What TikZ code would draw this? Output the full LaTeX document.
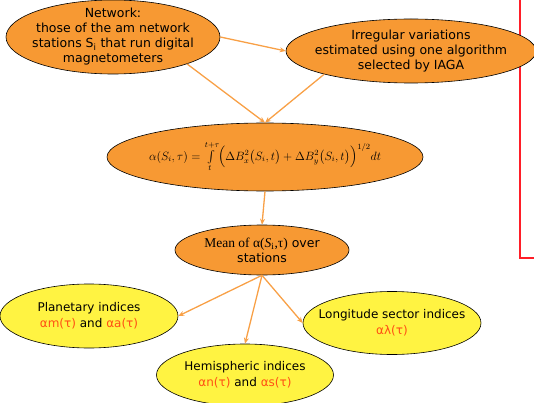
\documentclass[tikz,border=0pt]{standalone}
\usepackage{amsmath}
\usepackage{fontspec}
\setmainfont{DejaVu Sans}
\newfontfamily\seriffont{Liberation Serif}
\usetikzlibrary{shapes.geometric,arrows.meta}
\definecolor{boxorange}{RGB}{247,153,51}
\definecolor{boxyellow}{RGB}{255,243,66}
\definecolor{idxred}{RGB}{255,80,20}
\definecolor{linkorange}{RGB}{248,160,70}
\definecolor{framered}{RGB}{255,30,40}

\begin{document}
\begin{tikzpicture}[x=1pt,y=-1pt,
    blob/.style={ellipse, draw=black, line width=0.6pt, inner sep=-16pt,
      align=center, font=\fontsize{12.5}{15}\selectfont},
    index/.style={blob, fill=boxyellow, font=\fontsize{12}{16}\selectfont},
    link/.style={draw=linkorange, line width=1.3pt,
      -{Stealth[length=6pt,width=5pt]}}]
    \useasboundingbox (0,0) rectangle (534,403);
    % Red frame on the right
    \draw[framered, line width=2.4pt] (520,0) -- (520,258) -- (535,258);
    % Inputs
    \node[blob, fill=boxorange, minimum width=214pt, minimum height=74pt]
      (net) at (113,37) {Network:\\ those of the am network\\
      stations S\textsubscript{i} that run digital\\ magnetometers};
    \node[blob, fill=boxorange, minimum width=250pt, minimum height=64pt]
      (irr) at (411,51) {Irregular variations\\
      estimated using one algorithm\\ selected by IAGA};
    % Formula
    \node[blob, fill=boxorange, minimum width=316pt, minimum height=68pt,
      font=\fontsize{12}{14}\selectfont]
      (form) at (265,157) {$\alpha(S_i,\tau) = \int\limits_t^{t+\tau}
      \Bigl(\Delta B_x^2\bigl(S_i,t\bigr) + \Delta B_y^2\bigl(S_i,t\bigr)\Bigr)^{1/2} dt$};
    % Mean over stations
    \node[blob, fill=boxorange, minimum width=174pt, minimum height=50pt]
      (mean) at (262,250) {{\seriffont\fontsize{13.5}{15}\selectfont
      Mean of α(\textit{S}\textsubscript{i},τ)} over\\ stations};
    % Indices
    \node[index, minimum width=178pt, minimum height=64pt]
      (plan) at (89,316) {Planetary indices\\
      {\color{idxred}αm(τ)} and {\color{idxred}αa(τ)}};
    \node[index, minimum width=178pt, minimum height=63pt]
      (long) at (392,323) {Longitude sector indices\\ {\color{idxred}αλ(τ)}};
    \node[index, minimum width=177pt, minimum height=62pt]
      (hemi) at (245,375) {Hemispheric indices\\
      {\color{idxred}αn(τ)} and {\color{idxred}αs(τ)}};
    % Links
    \draw[link] (net.east) -- (irr.west);
    \draw[link] (net.-20) -- (form.north);
    \draw[link] (irr.-165) -- (form.north);
    \draw[link] (form.south) -- (mean.north);
    \draw[link] (mean.south) -- (plan.east);
    \draw[link] (mean.south) -- (hemi.north);
    \draw[link] (mean.south) -- (long.west);
\end{tikzpicture}
\end{document}
